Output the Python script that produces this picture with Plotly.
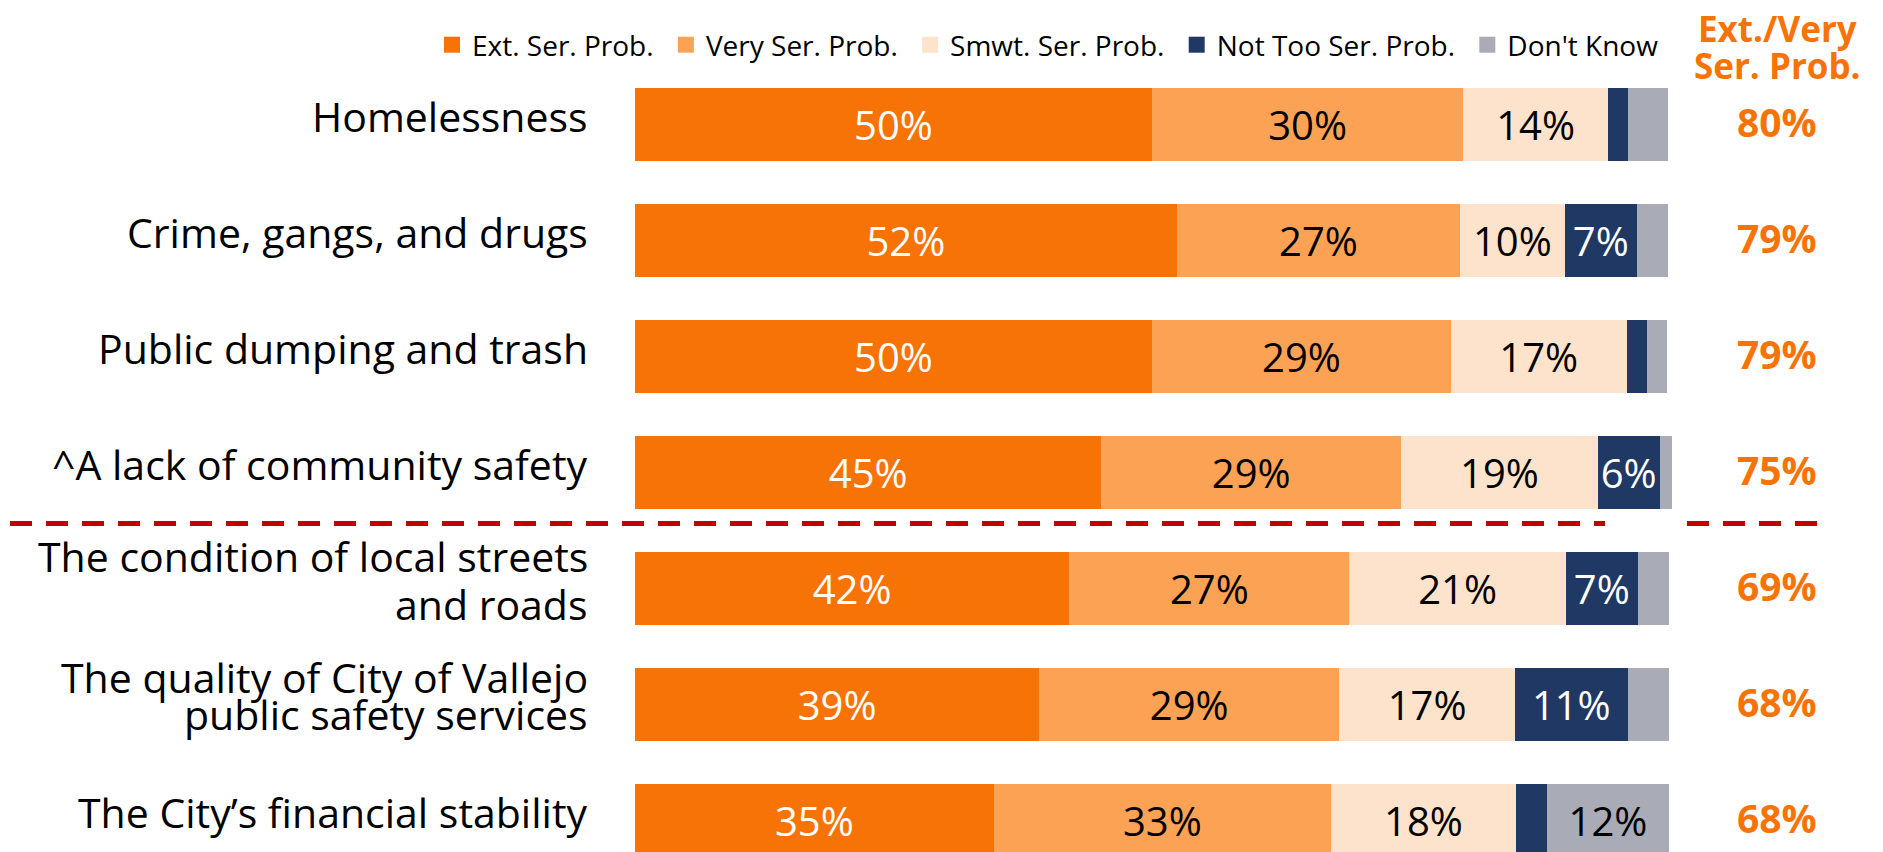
import plotly.graph_objects as go

# ---------------- data ----------------
categories = [
    "Homelessness",
    "Crime, gangs, and drugs",
    "Public dumping and trash",
    "^A lack of community safety",
    "The condition of local streets<br>and roads",
    "The quality of City of Vallejo<br>public safety services",
    "The City\u2019s financial stability",
]
series_names = ["Ext. Ser. Prob.", "Very Ser. Prob.", "Smwt. Ser. Prob.", "Not Too Ser. Prob.", "Don't Know"]
ext_ser = [50.0, 52.4, 50.0, 45.1, 42.0, 39.1, 34.7]
very_ser = [30.1, 27.4, 28.9, 29.0, 27.1, 29.0, 32.6]
smwt_ser = [14.0, 10.1, 17.0, 19.0, 20.9, 17.0, 17.9]
not_too_ser = [1.9, 7.0, 2.0, 6.0, 7.0, 10.9, 3.0]
dont_know = [3.9, 3.0, 1.9, 1.2, 3.0, 4.0, 11.8]
ext_very_total = [80, 79, 79, 75, 69, 68, 68]
net_header = ["Ext./Very", "Ser. Prob."]

# ---------------- style ----------------
W, H = 1883, 852          # browser window
OFF = 8                   # default body margin of the page
FW, FH = W - OFF, H - OFF # figure size
FONT = "Open Sans"
ORANGE = "#F87306"
colors = ["#F87306", "#FCA254", "#FDE3CB", "#1F3864", "#A9ABB7"]
text_colors = ["white", "black", "black", "white", "black"]
LABEL_MIN = 5  # segments narrower than this carry no label
label_line_gap = [0, 0, 0, 0, 48, 37, 0]
LEGEND_PAD = "\u00a0"


def fx(p):  # page pixel x -> paper
    return (p - OFF) / FW


def fy(p):  # page pixel y -> paper
    return 1 - (p - OFF) / FH


bar_left_px, px_per_pct = 635, 10.34
row0_center_px, row_pitch_px, bar_h_px = 124.5, 116, 73
x_max = 100.5

fig = go.Figure()
all_series = [ext_ser, very_ser, smwt_ser, not_too_ser, dont_know]
for name, vals, col, tcol in zip(series_names, all_series, colors, text_colors):
    labels = [f"{round(v)}%" if v >= LABEL_MIN else "" for v in vals]
    fig.add_trace(go.Bar(
        name=name, y=categories, x=vals, orientation="h",
        marker=dict(color=col, line=dict(width=0)),
        text=labels, textposition="inside", insidetextanchor="middle",
        constraintext="none", cliponaxis=False,
        textfont=dict(family=FONT, size=40, color=tcol),
        hoverinfo="skip", showlegend=False,
    ))
# legend entries (square swatches)
for k, (name, col) in enumerate(zip(series_names, colors)):
    pad = LEGEND_PAD if k < len(series_names) - 1 else ""
    fig.add_trace(go.Scatter(
        name=name + pad, x=[None], y=[None], mode="markers",
        marker=dict(symbol="square", size=18, color=col, line=dict(width=0)),
        showlegend=True, hoverinfo="skip",
    ))

# y range so that row i is centred at row0_center + i*pitch (page pixels)
v_top = -(row0_center_px - OFF) / row_pitch_px
v_bot = v_top + FH / row_pitch_px

annotations = []
for cat, gap in zip(categories, label_line_gap):
    lines = cat.split("<br>")
    n = len(lines)
    for j, line in enumerate(lines):
        shift = 9 + ((n - 1) / 2 - j) * gap
        annotations.append(dict(
            x=fx(590), xref="paper", y=cat, yref="y", xanchor="right", yanchor="middle",
            text=line, showarrow=False, yshift=shift,
            font=dict(family=FONT, size=41, color="black"), align="right",
        ))
for cat, tot in zip(categories, ext_very_total):
    annotations.append(dict(
        x=fx(1777), xref="paper", y=cat, yref="y", xanchor="center", yanchor="middle",
        text=f"<b>{tot}%</b>", showarrow=False, yshift=3,
        font=dict(family=FONT, size=39, color=ORANGE),
    ))
for i, line in enumerate(net_header):
    annotations.append(dict(
        x=fx(1777), xref="paper", y=fy(28 + 37 * i), yref="paper",
        xanchor="center", yanchor="middle", text=f"<b>{line}</b>", showarrow=False,
        font=dict(family=FONT, size=35, color=ORANGE),
    ))

sep_y = 3.44
dash = dict(color="#C00000", width=5, dash="22px,14px")
shapes = [
    dict(type="line", xref="paper", yref="y", x0=fx(10), x1=fx(1605), y0=sep_y, y1=sep_y, line=dash),
    dict(type="line", xref="paper", yref="y", x0=fx(1687), x1=fx(1820), y0=sep_y, y1=sep_y, line=dash),
]

fig.update_layout(
    width=FW, height=FH,
    margin=dict(l=0, r=0, t=0, b=0),
    paper_bgcolor="white", plot_bgcolor="white",
    barmode="stack", bargap=1 - bar_h_px / row_pitch_px,
    font=dict(family=FONT, color="black"),
    xaxis=dict(domain=[fx(bar_left_px), fx(bar_left_px + px_per_pct * x_max)], range=[0, x_max],
               visible=False, fixedrange=True),
    yaxis=dict(categoryorder="array", categoryarray=categories,
               range=[v_bot, v_top], visible=False, fixedrange=True),
    showlegend=True,
    legend=dict(orientation="h", x=(432 - OFF) / FW, xanchor="left", y=fy(45), yanchor="middle",
                font=dict(family=FONT, size=28, color="black"), traceorder="normal",
                itemwidth=30, itemsizing="trace", bgcolor="rgba(0,0,0,0)",
                itemclick=False, itemdoubleclick=False),
    annotations=annotations,
    shapes=shapes,
)

fig.write_html("out.html")
